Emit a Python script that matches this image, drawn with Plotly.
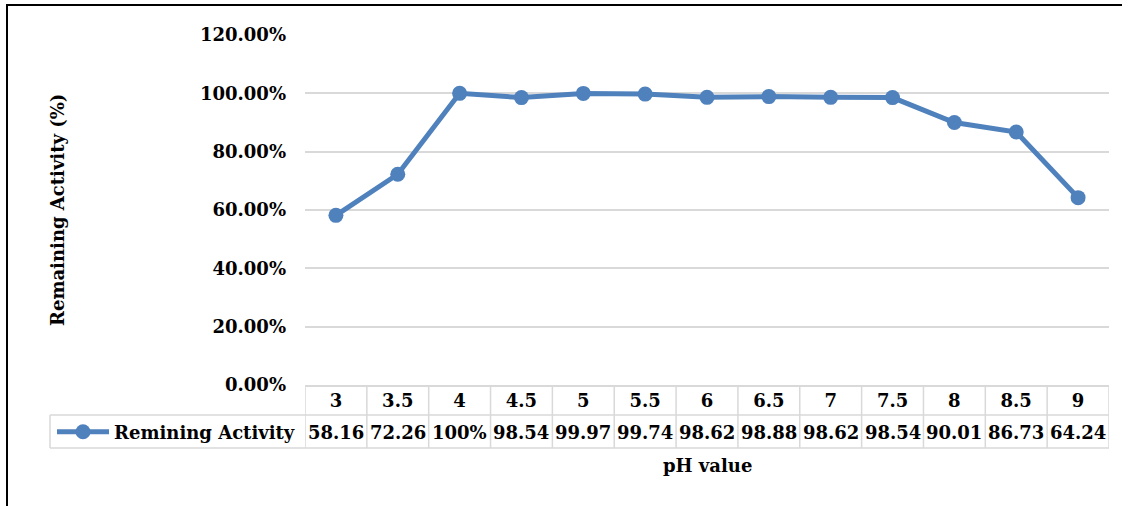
import plotly.graph_objects as go

ph_labels = ["3", "3.5", "4", "4.5", "5", "5.5", "6", "6.5", "7", "7.5", "8", "8.5", "9"]
activity = [58.16, 72.26, 100.0, 98.54, 99.97, 99.74, 98.62, 98.88, 98.62, 98.54, 90.01, 86.73, 64.24]
table_labels = ["58.16", "72.26", "100%", "98.54", "99.97", "99.74", "98.62", "98.88",
                "98.62", "98.54", "90.01", "86.73", "64.24"]
y_ticks = [0, 0.2, 0.4, 0.6, 0.8, 1.0, 1.2]
series_name = "Remining Activity"

W, H = 1131, 506
L, R, T, B = 305, 1109, 35, 385
pw, ph = R - L, B - T

def px(x):
    return (x - L) / pw

def py(y):
    return (B - y) / ph

FONT = "DejaVu Serif"
FS = 18
BLUE = "#4F81BD"
GRID = "#D9D9D9"
TXT = dict(family=FONT, size=FS, color="black", weight="bold")

fig = go.Figure()
fig.add_trace(go.Scatter(
    x=list(range(len(ph_labels))), y=[v / 100 for v in activity], mode="lines+markers",
    name=series_name,
    line=dict(color=BLUE, width=5),
    marker=dict(color=BLUE, size=15),
))

shapes = []
gl = dict(color=GRID, width=1.5)
shapes.append(dict(type="line", xref="paper", yref="paper", x0=px(50), x1=px(R), y0=py(415), y1=py(415), line=gl))
shapes.append(dict(type="line", xref="paper", yref="paper", x0=px(50), x1=px(R), y0=py(448), y1=py(448), line=gl))
shapes.append(dict(type="line", xref="paper", yref="paper", x0=px(50), x1=px(50), y0=py(415), y1=py(448), line=gl))
n = len(ph_labels)
for i in range(n + 1):
    shapes.append(dict(type="line", xref="x", yref="paper", x0=i - 0.5, x1=i - 0.5, y0=py(385), y1=py(448), line=gl))
# outer frame
shapes.append(dict(type="line", xref="paper", yref="paper", x0=px(6), x1=px(1122), y0=py(5), y1=py(5),
                   line=dict(color="black", width=2)))
shapes.append(dict(type="line", xref="paper", yref="paper", x0=px(7), x1=px(7), y0=py(4), y1=py(520),
                   line=dict(color="black", width=2)))

annotations = []
for i, t in enumerate(table_labels):
    annotations.append(dict(x=i, xref="x", y=py(432), yref="paper", text=t, showarrow=False,
                            xanchor="center", yanchor="middle", font=TXT))
annotations.append(dict(x=px(707), xref="paper", y=py(466), yref="paper", text="pH value",
                        showarrow=False, xanchor="center", yanchor="middle", font=TXT))
annotations.append(dict(x=px(57), xref="paper", y=py(210), yref="paper", text="Remaining Activity (%)",
                        showarrow=False, xanchor="center", yanchor="middle", textangle=-90, font=TXT))

fig.update_layout(
    width=W, height=H,
    margin=dict(l=L, r=W - R, t=T, b=H - B, pad=0),
    paper_bgcolor="white", plot_bgcolor="white",
    font=TXT,
    showlegend=True,
    legend=dict(x=px(52), y=py(432), xanchor="left", yanchor="middle", xref="paper", yref="paper",
                bgcolor="rgba(0,0,0,0)", itemwidth=52, font=TXT),
    shapes=shapes,
    annotations=annotations,
    xaxis=dict(range=[-0.5, n - 0.5], tickmode="array", tickvals=list(range(n)), ticktext=ph_labels,
               showgrid=False, showline=True, linecolor=GRID, linewidth=1.5,
               ticks="", ticklabelstandoff=-1, zeroline=False, tickfont=TXT),
    yaxis=dict(range=[0, 1.2], tickvals=y_ticks, tickformat=".2%", showgrid=True, gridcolor=GRID,
               gridwidth=1.5, zeroline=False, showline=False, ticks="", ticklabelstandoff=18,
               tickfont=TXT),
)

fig.write_html("out.html")
